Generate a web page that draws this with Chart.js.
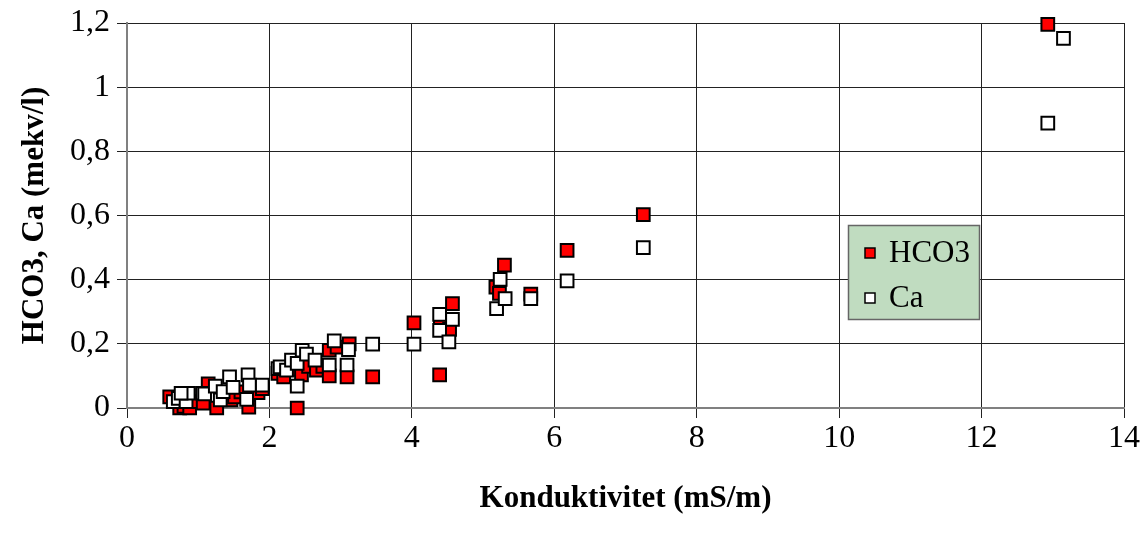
<!DOCTYPE html>
<html>
<head>
<meta charset="utf-8">
<script src="https://cdn.jsdelivr.net/npm/chart.js@4"></script>
<style>
  html, body { margin: 0; padding: 0; background: #fff; }
  #wrap { width: 1144px; height: 533px; }
</style>
</head>
<body>
<div id="wrap"><canvas id="chart" width="1144" height="533"></canvas></div>
<script>
// HCO3 (red squares): conductivity (mS/m) and value (mekv/l)
const hco3X = [0.60, 0.74, 0.80, 0.88, 0.95, 1.07, 1.14, 1.26, 1.46, 1.51, 1.60, 1.71, 1.84, 1.90,
  2.12, 2.20, 2.30, 2.39, 2.45, 2.55, 2.66, 2.75, 2.84, 2.84, 2.95, 3.09, 3.12, 3.45,
  4.03, 4.39, 4.40, 4.53, 4.57, 5.18, 5.23, 5.30, 5.67, 6.18, 7.25, 12.93];
const hco3Y = [0.035, 0.0, 0.005, 0.0, 0.02, 0.015, 0.075, 0.0, 0.025, 0.035, 0.05, 0.003, 0.048, 0.06,
  0.108, 0.097, 0.12, 0.0, 0.103, 0.13, 0.118, 0.13, 0.18, 0.1, 0.19, 0.097, 0.2, 0.097,
  0.265, 0.103, 0.26, 0.245, 0.325, 0.377, 0.357, 0.445, 0.355, 0.491, 0.603, 1.196];

// Ca (white squares)
const caX = [0.65, 0.72, 0.83, 0.86, 0.76, 1.06, 1.09, 1.24, 1.31, 1.35, 1.44, 1.49, 1.68, 1.70, 1.72, 1.90,
  2.12, 2.15, 2.24, 2.31, 2.39, 2.39, 2.46, 2.52, 2.64, 2.84, 2.91, 3.09, 3.11, 3.45,
  4.03, 4.39, 4.39, 4.52, 4.57, 5.19, 5.24, 5.31, 5.67, 6.18, 7.25, 12.93, 13.15];
const caY = [0.02, 0.03, 0.02, 0.046, 0.046, 0.046, 0.044, 0.068, 0.025, 0.051, 0.097, 0.064, 0.027, 0.103, 0.071, 0.071,
  0.123, 0.128, 0.118, 0.149, 0.139, 0.068, 0.18, 0.168, 0.149, 0.134, 0.209, 0.134, 0.182, 0.199,
  0.199, 0.292, 0.242, 0.206, 0.276, 0.31, 0.401, 0.341, 0.341, 0.396, 0.5, 0.888, 1.152];

const seriesLabels = ['HCO3', 'Ca'];
const xTitle = 'Konduktivitet (mS/m)';
const yTitle = 'HCO3, Ca (mekv/l)';

const toPoints = (xs, ys) => xs.map((x, i) => ({ x, y: ys[i] }));
const serif = "'Liberation Serif', 'Times New Roman', serif";

// legend box sitting inside the plot, drawn by hand
const legendBox = {
  id: 'legendBox',
  afterDatasetsDraw(chart, args, opts) {
    const ctx = chart.ctx;
    ctx.save();
    ctx.fillStyle = opts.backgroundColor;
    ctx.fillRect(opts.left, opts.top, opts.width, opts.height);
    ctx.strokeStyle = opts.borderColor;
    ctx.lineWidth = 1.5;
    ctx.strokeRect(opts.left + 0.5, opts.top + 0.5, opts.width, opts.height);
    chart.data.datasets.forEach((ds, i) => {
      const cy = opts.top + opts.firstRow + i * opts.rowGap;
      const cx = opts.left + opts.markerX;
      const s = opts.markerSize;
      ctx.fillStyle = ds.backgroundColor;
      ctx.fillRect(cx - s / 2, cy - s / 2, s, s);
      ctx.strokeStyle = '#000';
      ctx.lineWidth = 1.5;
      ctx.strokeRect(cx - s / 2, cy - s / 2, s, s);
      ctx.fillStyle = '#000';
      ctx.font = `31px ${serif}`;
      ctx.textBaseline = 'middle';
      ctx.textAlign = 'left';
      ctx.fillText(ds.label, opts.left + opts.textX, cy + 1);
    });
    ctx.restore();
  }
};

const fmtTick = v => String(Number(v.toFixed(1))).replace('.', ',');

new Chart(document.getElementById('chart').getContext('2d'), {
  type: 'scatter',
  data: {
    datasets: [
      {
        label: seriesLabels[0],
        data: toPoints(hco3X, hco3Y),
        backgroundColor: '#ff0000',
        borderColor: '#000',
        borderWidth: 2,
        pointStyle: 'rect',
        pointRadius: 9,
        clip: false,
        order: 1
      },
      {
        label: seriesLabels[1],
        data: toPoints(caX, caY),
        backgroundColor: '#ffffff',
        borderColor: '#000',
        borderWidth: 2,
        pointStyle: 'rect',
        pointRadius: 9,
        clip: false,
        order: 0
      }
    ]
  },
  options: {
    responsive: false,
    animation: false,
    devicePixelRatio: 1,
    layout: { padding: { left: 0, right: 20, top: 22, bottom: 0 } },
    plugins: {
      legend: { display: false },
      tooltip: { enabled: false },
      legendBox: {
        left: 848, top: 225, width: 131, height: 94,
        backgroundColor: '#c0dcc0', borderColor: '#666',
        firstRow: 28, rowGap: 45, markerX: 22, markerSize: 10, textX: 41
      }
    },
    scales: {
      x: {
        type: 'linear',
        min: 0,
        max: 14,
        afterFit(scale) { scale.height = 125; },
        ticks: { stepSize: 2, color: '#000', font: { family: serif, size: 32 }, padding: 1, maxRotation: 0 },
        grid: { color: '#222', lineWidth: 1, tickLength: 10, drawTicks: true },
        border: { color: '#808080', width: 2 },
        title: { display: true, text: xTitle, color: '#000', font: { family: serif, size: 31, weight: 'bold' }, padding: { top: 0, bottom: 15 } }
      },
      y: {
        min: 0,
        max: 1.2,
        afterFit(scale) { scale.width = 127; },
        ticks: { stepSize: 0.2, color: '#000', font: { family: serif, size: 32, lineHeight: 1 }, padding: 7, callback: v => fmtTick(v) },
        grid: { color: '#222', lineWidth: 1, tickLength: 10, drawTicks: true },
        border: { color: '#808080', width: 2 },
        title: { display: true, text: yTitle, color: '#000', font: { family: serif, size: 31, weight: 'bold' }, padding: { top: 16, bottom: 0 } }
      }
    }
  },
  plugins: [legendBox]
});
</script>
</body>
</html>
